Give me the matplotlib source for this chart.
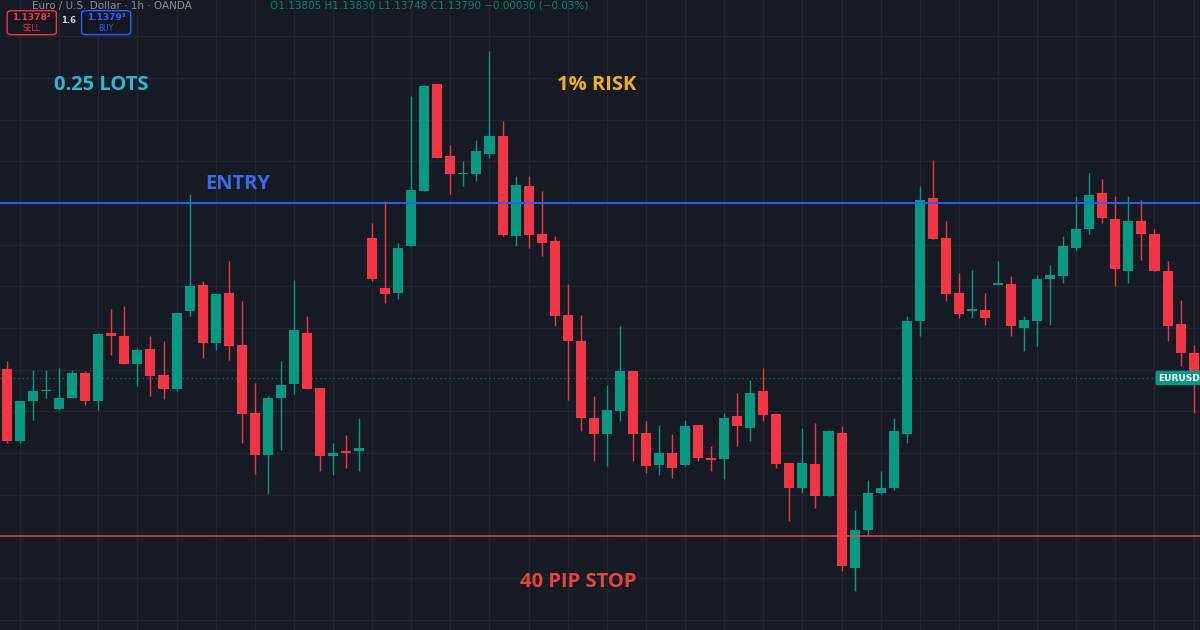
import numpy as np
import matplotlib
matplotlib.use("Agg")
import matplotlib.pyplot as plt
from matplotlib.patches import FancyBboxPatch

# EURUSD 1h candles
opens = [1.13801, 1.13714, 1.13762, 1.13774, 1.13753, 1.13766, 1.13796, 1.13762, 1.13844, 1.13841,
         1.13807, 1.13825, 1.13793, 1.13777, 1.13870, 1.13901, 1.13832, 1.13892, 1.13830, 1.13748,
         1.13698, 1.13766, 1.13783, 1.13844, 1.13778, 1.13697, 1.13703, 1.13702, 1.13958, 1.13898,
         1.13892, 1.13948, 1.14015, 1.14143, 1.14056, 1.14035, 1.14035, 1.14059, 1.14081, 1.13961,
         1.14021, 1.13963, 1.13954, 1.13866, 1.13834, 1.13742, 1.13723, 1.13750, 1.13798, 1.13724,
         1.13686, 1.13700, 1.13686, 1.13734, 1.13694, 1.13693, 1.13744, 1.13730, 1.13774, 1.13747,
         1.13688, 1.13658, 1.13687, 1.13648, 1.13724, 1.13562, 1.13608, 1.13652, 1.13658, 1.13723,
         1.13858, 1.14006, 1.13958, 1.13892, 1.13870, 1.13872, 1.13902, 1.13903, 1.13850, 1.13859,
         1.13909, 1.13913, 1.13946, 1.13969, 1.14012, 1.13981, 1.13919, 1.13978, 1.13963, 1.13918,
         1.13855, 1.13820]
highs = [1.13811, 1.13763, 1.13800, 1.13800, 1.13802, 1.13800, 1.13799, 1.13844, 1.13873, 1.13877,
         1.13826, 1.13840, 1.13834, 1.13868, 1.14011, 1.13907, 1.13892, 1.13930, 1.13882, 1.13784,
         1.13768, 1.13810, 1.13908, 1.13864, 1.13778, 1.13712, 1.13722, 1.13742, 1.13976, 1.14002,
         1.13952, 1.14129, 1.14142, 1.14143, 1.14070, 1.14051, 1.14076, 1.14183, 1.14099, 1.14032,
         1.14033, 1.14014, 1.13960, 1.13903, 1.13866, 1.13769, 1.13782, 1.13852, 1.13798, 1.13739,
         1.13734, 1.13723, 1.13740, 1.13734, 1.13708, 1.13748, 1.13772, 1.13788, 1.13802, 1.13747,
         1.13688, 1.13730, 1.13736, 1.13728, 1.13732, 1.13632, 1.13668, 1.13678, 1.13742, 1.13864,
         1.14020, 1.14052, 1.13979, 1.13916, 1.13920, 1.13892, 1.13930, 1.13912, 1.13864, 1.13914,
         1.13926, 1.13960, 1.14008, 1.14036, 1.14029, 1.14008, 1.14009, 1.14004, 1.13969, 1.13930,
         1.13884, 1.13830]
lows = [1.13712, 1.13712, 1.13740, 1.13766, 1.13752, 1.13766, 1.13758, 1.13752, 1.13818, 1.13807,
        1.13780, 1.13769, 1.13765, 1.13774, 1.13864, 1.13814, 1.13824, 1.13812, 1.13712, 1.13675,
        1.13651, 1.13704, 1.13771, 1.13777, 1.13678, 1.13674, 1.13682, 1.13678, 1.13907, 1.13880,
        1.13885, 1.13948, 1.14015, 1.14054, 1.14011, 1.14020, 1.14026, 1.14054, 1.13960, 1.13948,
        1.13946, 1.13936, 1.13852, 1.13764, 1.13726, 1.13691, 1.13684, 1.13738, 1.13690, 1.13676,
        1.13674, 1.13670, 1.13684, 1.13691, 1.13679, 1.13669, 1.13708, 1.13714, 1.13739, 1.13682,
        1.13619, 1.13652, 1.13634, 1.13648, 1.13559, 1.13534, 1.13601, 1.13651, 1.13656, 1.13712,
        1.13840, 1.13957, 1.13882, 1.13862, 1.13862, 1.13854, 1.13902, 1.13841, 1.13822, 1.13828,
        1.13854, 1.13904, 1.13944, 1.13963, 1.13976, 1.13900, 1.13904, 1.13932, 1.13918, 1.13834,
        1.13804, 1.13748]
closes = [1.13714, 1.13762, 1.13774, 1.13775, 1.13766, 1.13796, 1.13763, 1.13843, 1.13840, 1.13807,
          1.13824, 1.13792, 1.13777, 1.13868, 1.13900, 1.13832, 1.13891, 1.13829, 1.13747, 1.13698,
          1.13766, 1.13782, 1.13847, 1.13777, 1.13696, 1.13700, 1.13700, 1.13706, 1.13909, 1.13891,
          1.13946, 1.14016, 1.14141, 1.14054, 1.14035, 1.14036, 1.14062, 1.14080, 1.13962, 1.14022,
          1.13962, 1.13952, 1.13864, 1.13834, 1.13742, 1.13723, 1.13752, 1.13798, 1.13723, 1.13685,
          1.13700, 1.13682, 1.13733, 1.13694, 1.13692, 1.13742, 1.13732, 1.13772, 1.13746, 1.13687,
          1.13658, 1.13688, 1.13649, 1.13727, 1.13564, 1.13608, 1.13652, 1.13658, 1.13727, 1.13858,
          1.14003, 1.13957, 1.13891, 1.13867, 1.13873, 1.13862, 1.13904, 1.13853, 1.13860, 1.13909,
          1.13914, 1.13948, 1.13969, 1.14010, 1.13982, 1.13921, 1.13979, 1.13963, 1.13918, 1.13853,
          1.13820, 1.13790]

entry_price = 1.1400
stop_price = 1.1360
sell_quote = "1.1378²"
buy_quote = "1.1379⁸"
spread = "1.6"

bg = '#161a25'
grid_c = '#222631'
up_c = '#089981'
down_c = '#f23645'

o = np.array(opens); h = np.array(highs); l = np.array(lows); c = np.array(closes)
x = np.arange(len(o))
up = c >= o
cols = np.where(up, up_c, down_c)

fig = plt.figure(figsize=(12, 6.3), dpi=100, facecolor=bg)
ax = fig.add_axes([0, 0, 1, 1], facecolor=bg)

# grid
ax.set_xticks(np.arange(1, len(o), 3))
ax.set_yticks(np.arange(1.1345, 1.1430, 0.0005))
ax.grid(True, color=grid_c, linewidth=1)
ax.tick_params(length=0, labelbottom=False, labelleft=False)
for s in ax.spines.values():
    s.set_visible(False)

# candles
ax.vlines(x, l, h, colors=cols, linewidth=1, zorder=3)
body = np.maximum(np.abs(c - o), 0.000015)
ax.bar(x, body, bottom=np.minimum(o, c), width=0.77, color=cols, linewidth=0, zorder=4)

# lines
ax.axhline(entry_price, color='#2962ff', linewidth=1.3, zorder=5)
ax.axhline(stop_price, color='#e8434b', linewidth=1.1, zorder=5)
ax.axhline(c[-1], color=up_c, linewidth=0.8, linestyle=(0, (1, 3)), alpha=0.8, zorder=2)

ax.set_xlim(-0.54, 91.49)
ax.set_ylim(1.134876, 1.142436)

# annotations
fnt = dict(family=['Open Sans', 'DejaVu Sans'], fontweight='bold', fontsize=14.5, ha='center', va='center')
ax.text(0.084, 0.865, '0.25 LOTS', color='#33b5d6', transform=ax.transAxes, **fnt)
ax.text(0.497, 0.865, '1% RISK', color='#f0b01c', transform=ax.transAxes, **fnt)
ax.text(0.198, 0.708, 'ENTRY', color='#3b6be8', transform=ax.transAxes, **fnt)
ax.text(0.482, 0.076, '40 PIP STOP', color='#e8443c', transform=ax.transAxes, **fnt)

# last price tag
ax.text(1.0, c[-1], 'EURUSD', color='white', fontsize=6.5, fontweight='bold', ha='right', va='center',
        transform=ax.get_yaxis_transform(), zorder=6,
        bbox=dict(boxstyle='round,pad=0.3,rounding_size=0.2', fc=up_c, ec='none'))

# header strip
fig.text(0.027, 0.999, 'Euro / U.S. Dollar · 1h · OANDA', color='#8c8f99', fontsize=7.5, va='top')
fig.text(0.225, 0.999, 'O1.13805 H1.13830 L1.13748 C1.13790 −0.00030 (−0.03%)', color=up_c,
         fontsize=7.5, va='top', alpha=0.8)

# sell / buy boxes
for x0, ec, q, lab in [(0.006, down_c, sell_quote, 'SELL'), (0.068, '#2962ff', buy_quote, 'BUY')]:
    fig.patches.append(FancyBboxPatch((x0, 0.945), 0.041, 0.038, boxstyle='round,pad=0,rounding_size=0.004',
                                      transform=fig.transFigure, fc='#131722', ec=ec, lw=1))
    fig.text(x0 + 0.0205, 0.972, q, color=ec, fontsize=6.5, ha='center', va='center', fontweight='bold')
    fig.text(x0 + 0.0205, 0.955, lab, color=ec, fontsize=5.5, ha='center', va='center')
fig.text(0.0575, 0.967, spread, color='#d1d4dc', fontsize=6, ha='center', va='center', fontweight='bold')

fig.savefig('out.png', dpi=100, facecolor=bg)
